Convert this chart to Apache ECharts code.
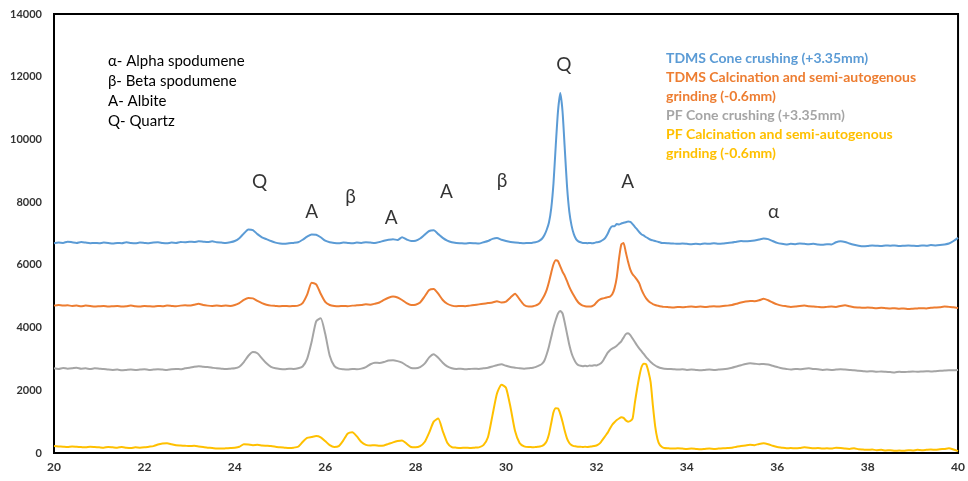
<!DOCTYPE html>
<html>
<head>
<meta charset="utf-8">
<script src="https://cdn.jsdelivr.net/npm/echarts@6/dist/echarts.min.js"></script>
<style>
  html, body { margin: 0; padding: 0; background: #ffffff; }
  #chart { width: 968px; height: 481px; }
</style>
</head>
<body>
<div id="chart"></div>
<script>
// 2-theta positions (degrees); finer spacing across the main quartz / albite peaks
const twoTheta = [
  20,20.1,20.2,20.3,20.4,20.5,20.6,20.7,20.8,20.9,
  21,21.1,21.2,21.3,21.4,21.5,21.6,21.7,21.8,21.9,
  22,22.1,22.2,22.3,22.4,22.5,22.6,22.7,22.8,22.9,
  23,23.1,23.2,23.3,23.4,23.5,23.6,23.7,23.8,23.9,
  24,24.1,24.2,24.3,24.4,24.5,24.6,24.7,24.8,24.9,
  25,25.1,25.2,25.3,25.4,25.5,25.6,25.7,25.8,25.9,
  26,26.1,26.2,26.3,26.4,26.5,26.6,26.7,26.8,26.9,
  27,27.1,27.2,27.3,27.4,27.5,27.6,27.7,27.8,27.9,
  28,28.1,28.2,28.3,28.4,28.5,28.6,28.7,28.8,28.9,
  29,29.1,29.2,29.3,29.4,29.5,29.6,29.7,29.8,29.9,
  30,30.1,30.2,30.3,30.4,30.5,
  30.55,30.6,30.65,30.7,30.75,30.8,30.85,30.9,30.95,
  31,31.05,31.1,31.15,31.2,31.25,31.3,31.35,31.4,31.45,31.5,31.55,31.6,31.65,31.7,31.75,31.8,31.85,31.9,31.95,
  32,32.05,32.1,32.15,32.2,32.25,32.3,32.35,32.4,32.45,32.5,32.55,32.6,32.65,32.7,32.75,32.8,32.85,32.9,32.95,
  33,33.05,33.1,33.15,33.2,33.25,33.3,33.35,33.4,33.45,33.5,
  33.6,33.7,33.8,33.9,
  34,34.1,34.2,34.3,34.4,34.5,34.6,34.7,34.8,34.9,
  35,35.1,35.2,35.3,35.4,35.5,35.6,35.7,35.8,35.9,
  36,36.1,36.2,36.3,36.4,36.5,36.6,36.7,36.8,36.9,
  37,37.1,37.2,37.3,37.4,37.5,37.6,37.7,37.8,37.9,
  38,38.1,38.2,38.3,38.4,38.5,38.6,38.7,38.8,38.9,
  39,39.1,39.2,39.3,39.4,39.5,39.6,39.7,39.8,39.9,
  40
];

// Intensity (counts), stacked patterns as plotted
const tdmsCone = [
  6690,6710,6700,6740,6720,6700,6730,6710,6690,6700,
  6690,6710,6700,6680,6700,6690,6720,6700,6690,6710,
  6700,6690,6710,6720,6700,6690,6710,6700,6730,6720,
  6740,6730,6750,6740,6730,6750,6720,6710,6700,6720,
  6760,6850,7000,7130,7110,6980,6880,6820,6760,6710,
  6680,6670,6690,6700,6720,6800,6900,6970,6960,6880,
  6770,6720,6700,6690,6710,6700,6690,6710,6700,6720,
  6710,6700,6730,6770,6800,6820,6790,6880,6810,6760,
  6770,6840,6960,7080,7100,6980,6860,6770,6720,6700,
  6690,6680,6700,6690,6680,6720,6760,6830,6860,6800,
  6760,6730,6710,6700,6690,6700,
  6700,6710,6720,6740,6780,6840,6950,7120,7350,
  7800,8600,9800,10900,11480,10900,9700,8500,7700,7250,6980,6820,6750,6720,6700,6700,6690,6700,6690,6700,
  6720,6730,6760,6800,6870,6990,7150,7230,7230,7300,7290,7320,7340,7360,7380,7370,7300,7210,7130,7040,
  6970,6930,6880,6840,6800,6780,6760,6740,6720,6700,6700,
  6690,6680,6670,6680,
  6670,6660,6670,6660,6680,6670,6690,6670,6680,6700,
  6710,6740,6760,6750,6760,6780,6810,6840,6820,6760,
  6700,6670,6650,6670,6660,6680,6670,6660,6670,6650,
  6640,6660,6650,6720,6750,6730,6680,6640,6610,6590,
  6600,6620,6610,6600,6620,6610,6620,6600,6610,6620,
  6610,6600,6620,6610,6630,6620,6630,6650,6680,6760,
  6860
];

const tdmsCalcination = [
  4700,4720,4700,4710,4690,4700,4680,4700,4690,4670,
  4680,4690,4670,4680,4690,4670,4680,4700,4680,4670,
  4690,4680,4670,4690,4680,4700,4690,4680,4700,4710,
  4700,4730,4760,4720,4700,4690,4700,4690,4700,4690,
  4720,4780,4880,4940,4930,4850,4780,4730,4700,4690,
  4680,4690,4680,4690,4700,4780,5050,5430,5380,5080,
  4820,4720,4690,4680,4690,4680,4700,4710,4720,4740,
  4730,4760,4800,4880,4950,4990,4960,4880,4780,4720,
  4730,4800,4990,5200,5230,5080,4880,4760,4700,4680,
  4690,4680,4700,4720,4740,4760,4780,4800,4840,4800,
  4830,4960,5080,4900,4720,4670,
  4670,4680,4700,4730,4790,4900,5030,5200,5450,
  5750,6020,6150,6120,5950,5780,5650,5480,5300,5150,5020,4900,4800,4740,4700,4680,4670,4670,4680,4720,
  4800,4870,4910,4930,4950,4970,4990,5060,5250,5600,6200,6650,6700,6400,6100,5850,5700,5620,5520,5400,
  5200,5050,4930,4850,4790,4750,4720,4700,4680,4670,4660,
  4650,4640,4660,4650,
  4660,4670,4660,4670,4660,4670,4680,4670,4690,4700,
  4720,4760,4800,4830,4850,4840,4870,4920,4870,4800,
  4740,4700,4680,4660,4670,4690,4700,4680,4670,4660,
  4650,4660,4670,4660,4690,4710,4680,4650,4640,4630,
  4640,4630,4620,4630,4620,4610,4620,4600,4610,4590,
  4600,4610,4620,4610,4630,4640,4650,4670,4660,4650,
  4620
];

const pfCone = [
  2700,2680,2710,2690,2700,2720,2690,2700,2680,2700,
  2690,2680,2660,2650,2660,2640,2650,2660,2650,2660,
  2670,2650,2660,2670,2660,2650,2670,2680,2670,2700,
  2720,2750,2770,2750,2740,2720,2700,2690,2680,2690,
  2700,2750,2900,3100,3220,3180,3020,2860,2750,2700,
  2680,2670,2690,2680,2700,2760,3000,3550,4200,4300,
  3800,3100,2780,2690,2670,2660,2680,2670,2690,2740,
  2830,2880,2870,2900,2950,2960,2930,2880,2790,2710,
  2700,2740,2850,3050,3150,3040,2880,2760,2700,2680,
  2690,2670,2680,2690,2680,2700,2720,2760,2800,2830,
  2780,2740,2720,2700,2690,2700,
  2710,2720,2740,2770,2800,2850,2950,3150,3400,
  3700,4000,4250,4450,4530,4450,4150,3800,3450,3180,3000,2870,2800,2780,2770,2780,2770,2790,2780,2800,
  2790,2820,2860,2950,3080,3200,3280,3330,3370,3420,3490,3560,3680,3790,3820,3760,3650,3540,3430,3330,
  3240,3150,3060,2980,2900,2840,2790,2750,2720,2700,2690,
  2680,2670,2660,2670,
  2650,2660,2650,2640,2650,2660,2650,2660,2670,2690,
  2720,2760,2800,2840,2860,2850,2830,2840,2820,2780,
  2740,2700,2680,2660,2680,2670,2690,2700,2680,2670,
  2650,2660,2650,2660,2670,2660,2650,2640,2620,2610,
  2600,2610,2590,2600,2590,2580,2570,2590,2580,2590,
  2600,2590,2600,2610,2600,2610,2620,2630,2640,2640,
  2650
];

const pfCalcination = [
  220,210,200,190,210,200,190,180,200,190,
  180,170,190,180,170,190,170,160,180,170,
  180,200,220,270,300,310,280,250,240,230,
  220,230,210,190,170,160,140,140,150,160,
  170,200,280,270,250,260,240,230,220,200,
  180,170,160,170,200,350,480,510,540,500,
  380,250,190,220,400,620,660,530,350,260,
  240,250,230,240,290,340,380,400,300,190,
  180,220,350,650,1000,1100,700,330,190,170,
  160,170,160,170,180,250,500,1200,1900,2180,
  2080,1450,700,320,210,190,
  190,180,190,200,210,230,280,380,600,
  950,1300,1430,1420,1250,1000,700,460,320,250,220,210,200,200,190,200,190,200,210,220,
  240,280,350,450,550,650,780,900,980,1050,1100,1140,1120,1040,1000,1020,1100,1600,2050,2450,
  2750,2850,2830,2600,2250,1500,850,450,260,190,160,
  150,140,150,140,
  130,140,130,120,130,140,130,140,150,160,
  170,200,220,240,260,250,290,310,280,230,
  190,170,150,160,150,160,180,170,150,160,
  140,150,140,170,160,140,130,150,120,110,
  100,110,90,100,80,90,70,80,70,90,
  80,100,90,100,110,100,120,130,150,110,
  60
];

const seriesNames = [
  'TDMS Cone crushing (+3.35mm)',
  'TDMS Calcination and semi-autogenous grinding (-0.6mm)',
  'PF Cone crushing (+3.35mm)',
  'PF Calcination and semi-autogenous grinding (-0.6mm)'
];
const seriesKeyText = [
  'TDMS Cone crushing (+3.35mm)',
  'TDMS Calcination and semi-autogenous\ngrinding (-0.6mm)',
  'PF Cone crushing (+3.35mm)',
  'PF Calcination and semi-autogenous\ngrinding (-0.6mm)'
];
const seriesColors = ['#5B9BD5', '#ED7D31', '#A5A5A5', '#FFC000'];
const seriesValues = [tdmsCone, tdmsCalcination, pfCone, pfCalcination];

// Phase identification letters placed above the peaks (2-theta, intensity)
const phaseLetters = ['Q', 'A', 'β', 'A', 'A', 'β', 'Q', 'A', 'α'];
const phaseLetterX = [24.55, 25.70, 26.56, 27.46, 28.68, 29.91, 31.28, 32.69, 35.92];
const phaseLetterY = [8640, 7700, 8160, 7500, 8330, 8670, 12370, 8640, 7700];

const phaseKey = ['α- Alpha spodumene', 'β- Beta spodumene', 'A- Albite', 'Q- Quartz'];

const chart = echarts.init(document.getElementById('chart'), null, { renderer: 'canvas' });

const lineSeries = seriesValues.map((vals, k) => ({
  name: seriesNames[k],
  type: 'line',
  data: twoTheta.map((t, i) => [t, vals[i]]),
  showSymbol: false,
  smooth: 0.2,
  lineStyle: { color: seriesColors[k], width: 2 },
  itemStyle: { color: seriesColors[k] },
  silent: true,
  z: 2
}));

const letterSeries = {
  type: 'scatter',
  data: phaseLetters.map((s, i) => [phaseLetterX[i], phaseLetterY[i], s]),
  symbolSize: 1,
  itemStyle: { color: 'rgba(0,0,0,0)' },
  silent: true,
  label: {
    show: true,
    position: 'inside',
    formatter: p => p.data[2],
    fontFamily: 'Lato',
    fontSize: 19,
    color: '#000000'
  },
  z: 3
};

const keyTops = [48.5, 67.5, 105.5, 124.5];
const graphics = [
  {
    type: 'text',
    left: 108,
    top: 51,
    style: {
      text: phaseKey.join('\n'),
      font: '15px Lato',
      lineHeight: 20,
      fill: '#000000'
    }
  }
].concat(seriesKeyText.map((txt, k) => ({
  type: 'text',
  left: 666,
  top: keyTops[k],
  style: {
    text: txt,
    font: 'bold 14px Lato',
    lineHeight: 19,
    fill: seriesColors[k]
  }
})));

chart.setOption({
  animation: false,
  backgroundColor: '#ffffff',
  grid: {
    left: 54, right: 7, top: 14, bottom: 28,
    show: true,
    borderColor: '#000000',
    borderWidth: 2,
    backgroundColor: 'transparent'
  },
  xAxis: {
    type: 'value',
    min: 20, max: 40, interval: 2,
    axisLine: { show: true, lineStyle: { color: '#000000', width: 2 } },
    axisTick: { show: false },
    splitLine: { show: false },
    axisLabel: {
      margin: 8,
      fontFamily: 'Lato',
      fontWeight: 'bold',
      fontSize: 12,
      color: '#333333'
    }
  },
  yAxis: {
    type: 'value',
    min: 0, max: 14000, interval: 2000,
    axisLine: { show: true, lineStyle: { color: '#000000', width: 2 } },
    axisTick: { show: false },
    splitLine: { show: false },
    axisLabel: {
      margin: 12,
      fontFamily: 'Lato',
      fontWeight: 'bold',
      fontSize: 11,
      color: '#333333',
      formatter: v => String(v)
    }
  },
  series: lineSeries.concat([letterSeries]),
  graphic: graphics
});
</script>
</body>
</html>
